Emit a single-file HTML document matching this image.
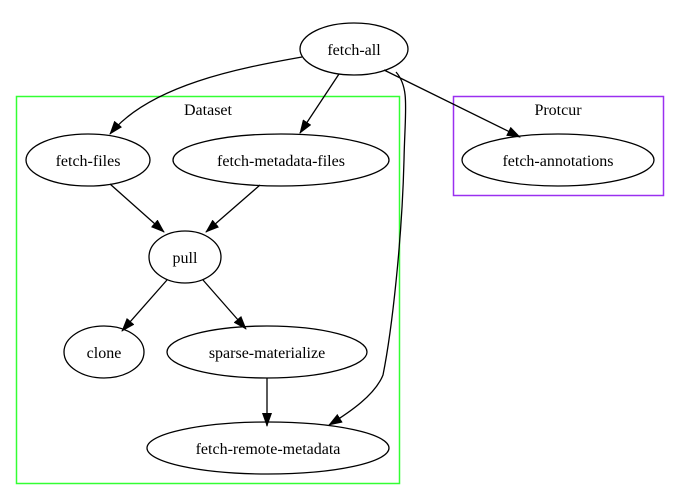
<!DOCTYPE html>
<html><head><style>
html,body{margin:0;padding:0;background:#fff;}
svg{display:block;}
text{font-family:"Liberation Serif",serif;font-size:16px;fill:#000;text-anchor:middle;}
</style></head><body>
<svg width="680" height="500" viewBox="0 0 680 500" xmlns="http://www.w3.org/2000/svg">
<defs>
<marker id="a" markerWidth="14" markerHeight="10" refX="13" refY="5" orient="auto" markerUnits="userSpaceOnUse">
<path d="M0,0 L14,5 L0,10 Z" fill="#000"/>
</marker>
</defs>
<rect x="16.5" y="96.5" width="383" height="387" fill="none" stroke="#33ff33" stroke-width="1.5"/>
<text x="208" y="115">Dataset</text>
<rect x="453.5" y="96.5" width="210" height="99" fill="none" stroke="#9a30f0" stroke-width="1.5"/>
<text x="558" y="115">Protcur</text>
<g fill="none" stroke="#000" stroke-width="1.3">
<ellipse cx="354" cy="49" rx="54" ry="26"/>
<ellipse cx="88" cy="160" rx="62" ry="26"/>
<ellipse cx="281" cy="160" rx="108" ry="26"/>
<ellipse cx="558" cy="160" rx="96" ry="26"/>
<ellipse cx="185" cy="257" rx="36" ry="26"/>
<ellipse cx="104" cy="352" rx="40" ry="26"/>
<ellipse cx="267" cy="352" rx="100" ry="26"/>
<ellipse cx="268" cy="448" rx="121" ry="26"/>
<path d="M302,57 C240,68 150,85 110,134" marker-end="url(#a)"/>
<path d="M339,74 L300,133" marker-end="url(#a)"/>
<path d="M384,70 L520,137" marker-end="url(#a)"/>
<path d="M396,72 C410,88 405,110 404,160 C402,240 392,330 383,375 C375,395 350,412 329,425" marker-end="url(#a)"/>
<path d="M110,184 L164,232" marker-end="url(#a)"/>
<path d="M260,185 L206,232" marker-end="url(#a)"/>
<path d="M167,280 L122,331" marker-end="url(#a)"/>
<path d="M203,280 L246,329" marker-end="url(#a)"/>
<path d="M267,378 L267,426" marker-end="url(#a)"/>
</g>
<text x="354" y="55">fetch-all</text>
<text x="88" y="166">fetch-files</text>
<text x="281" y="166">fetch-metadata-files</text>
<text x="558" y="166">fetch-annotations</text>
<text x="185" y="263">pull</text>
<text x="104" y="358">clone</text>
<text x="267" y="358">sparse-materialize</text>
<text x="268" y="454">fetch-remote-metadata</text>
</svg>
</body></html>
